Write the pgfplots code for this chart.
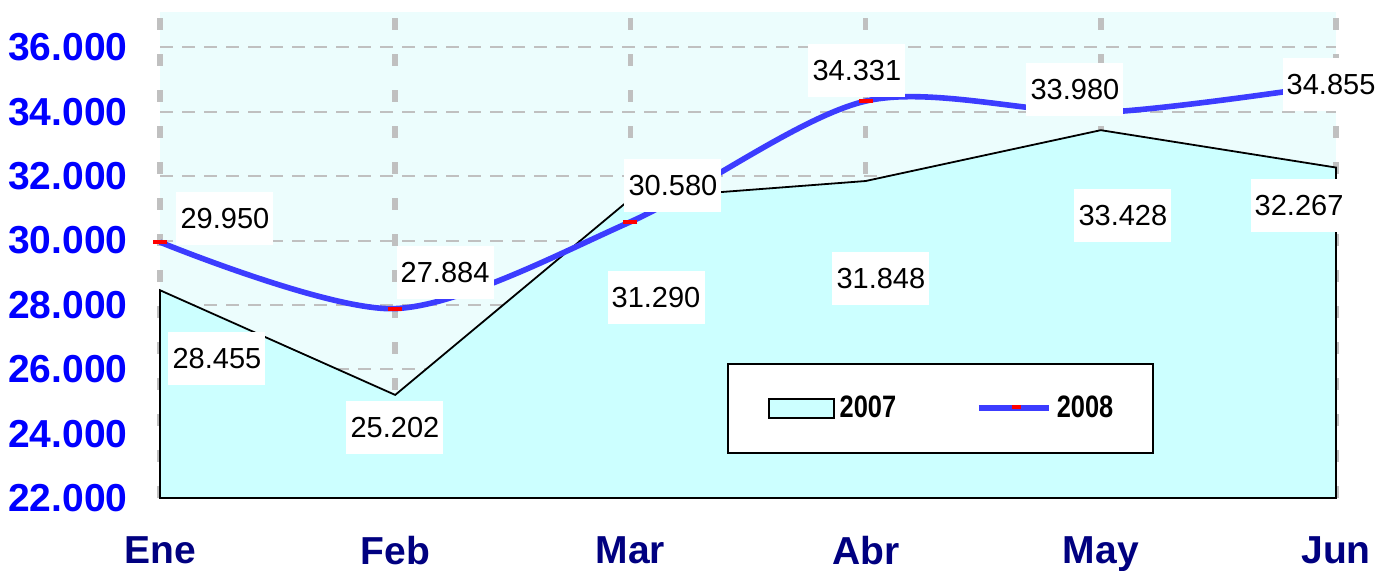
\documentclass[border=0pt]{standalone}
\usepackage{pgfplots}
\pgfplotsset{compat=1.18}
\usepackage{fontspec}
\setmainfont{Liberation Sans}
\usepackage{graphicx}

\definecolor{areacol}{RGB}{204,255,255}
\definecolor{bgcol}{RGB}{236,253,253}
\definecolor{gridcol}{RGB}{192,192,192}
\definecolor{linecol}{RGB}{60,60,255}
\definecolor{tickblue}{RGB}{0,0,255}
\definecolor{navyc}{RGB}{0,0,128}

\tikzset{lab/.style={fill=white, font=\fontsize{14.5}{15}\selectfont, inner sep=0pt, minimum width=48.5pt, minimum height=26.5pt}}

\begin{document}
\begin{tikzpicture}
\begin{axis}[
  set layers=standard,
  at={(80pt,36.5pt)}, anchor=south west,
  width=588pt, height=243pt, scale only axis,
  xmin=0, xmax=5, ymin=22000, ymax=37100,
  xtick={0,1,2,3,4,5}, xticklabels={Ene,Feb,Mar,Abr,May,Jun},
  ytick={22000,24000,26000,28000,30000,32000,34000,36000},
  yticklabels={22.000,24.000,26.000,28.000,30.000,32.000,34.000,36.000},
  axis line style={draw=none},
  major tick length=0pt,
  xmajorgrids=true, ymajorgrids=true,
  x grid style={gridcol, line width=2.8pt, dash pattern=on 6pt off 12pt},
  y grid style={gridcol, line width=1pt, dash pattern=on 6.5pt off 4.5pt},
  axis background/.style={fill=bgcol},
  xticklabel style={font=\bfseries\fontsize{19.5}{20}\selectfont, text=navyc, anchor=north, inner sep=0pt, yshift=-19pt},
  yticklabel style={font=\bfseries\fontsize{19.5}{20}\selectfont, text=tickblue, anchor=east, inner sep=0pt, xshift=-16pt},
  clip=false,
  legend style={at={(0.482,0.278)}, anchor=north west, draw=black, line width=1pt, fill=white,
    inner xsep=20pt, inner ysep=16pt, font=\bfseries\fontsize{15.5}{16}\selectfont,
    nodes={inner sep=0pt, anchor=west},
    /tikz/every odd column/.append style={column sep=2.5pt},
    /tikz/every even column/.append style={column sep=40pt}},
  legend columns=2,
  legend cell align=left,
]
\addplot[fill=areacol, draw=black, line width=0.9pt,
  legend image code/.code={\draw[fill=areacol,draw=black,line width=0.9pt] (0pt,-4.75pt) rectangle (32.5pt,4.75pt);}]
  coordinates {(0,28455) (1,25202) (2,31290) (3,31848) (4,33428) (5,32267)} \closedcycle;
\addlegendentry{\scalebox{0.82}[1]{2007}}
\addplot[linecol, line width=2.8pt, smooth, tension=0.5, mark=-, mark size=3.5pt, mark options={red, line width=2pt, solid},
  legend image code/.code={\draw[linecol,line width=2.8pt] (0pt,0pt)--(35pt,0pt); \draw[red,line width=2pt] (16.5pt,0.7pt)--(21pt,0.7pt);}]
  coordinates {(0,29950) (1,27884) (2,30580) (3,34331) (4,33980) (5,34855)};
\addlegendentry{\scalebox{0.82}[1]{2008}}

\begin{pgfonlayer}{axis foreground}
\node[lab] at (axis cs:0.242,26348) {28.455};
\node[lab] at (axis cs:0.999,24205) {25.202};
\node[lab] at (axis cs:2.109,28242) {31.290};
\node[lab] at (axis cs:3.065,28832) {31.848};
\node[lab] at (axis cs:4.094,30789) {33.428};
\node[lab] at (axis cs:4.843,31099) {32.267};
\node[lab] at (axis cs:0.276,30696) {29.950};
\node[lab] at (axis cs:1.212,29019) {27.884};
\node[lab] at (axis cs:2.181,31720) {30.580};
\node[lab] at (axis cs:2.963,35292) {34.331};
\node[lab] at (axis cs:3.890,34702) {33.980};
\node[lab] at (axis cs:4.979,34857) {34.855};
\end{pgfonlayer}
\end{axis}
\pgfresetboundingbox
\useasboundingbox (0,0) rectangle (689pt,285.5pt);
\end{tikzpicture}
\end{document}
